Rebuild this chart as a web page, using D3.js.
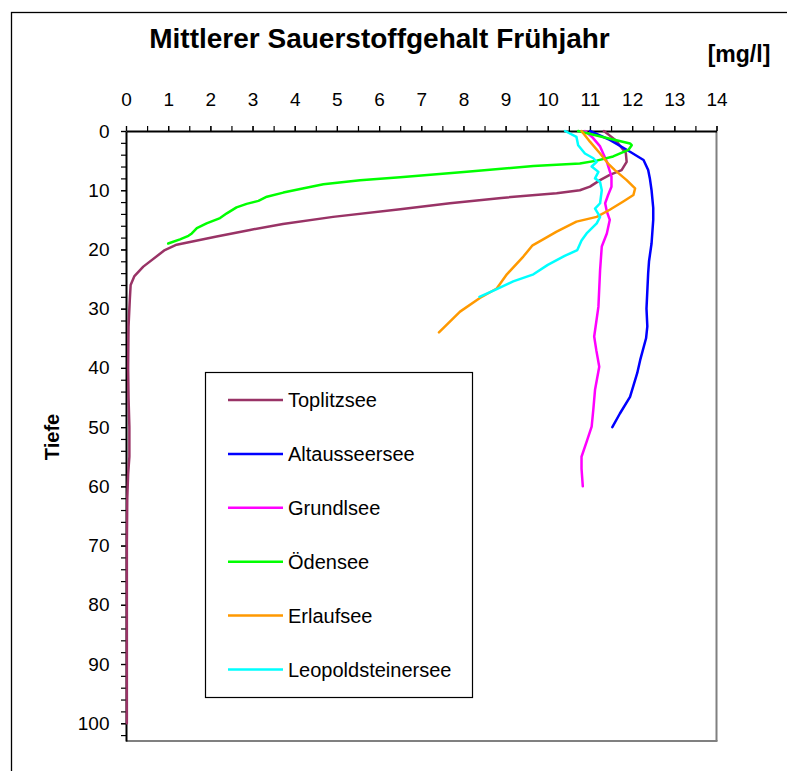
<!DOCTYPE html>
<html>
<head>
<meta charset="utf-8">
<script src="https://cdn.jsdelivr.net/npm/d3@7"></script>
<style>
  html, body { margin: 0; padding: 0; background: #fff; }
  svg { display: block; font-family: Arial, "Liberation Sans", sans-serif; }
</style>
</head>
<body>
<svg id="chart" width="787" height="771"></svg>
<script>
// Oxygen profiles: [mg/l, depth in m]
const toplitzsee = [[11.33,0],[11.6,1.5],[11.85,3.7],[11.87,5.2],[11.75,6.6],[11.47,7.4],[11.24,8.3],[11.0,9.4],[10.76,10.0],[10.21,10.5],[8.9,11.3],[7.68,12.2],[6.5,13.2],[4.91,14.5],[3.72,15.7],[2.94,16.7],[2.15,17.8],[1.2,19.2],[0.92,20.1],[0.41,22.9],[0.2,24.5],[0.11,26],[0.09,28.5],[0.08,30],[0.06,33],[0.05,40],[0.06,45],[0.08,50],[0.08,55],[0.05,58],[0.03,62],[0.02,70],[0.02,80],[0.02,90],[0.02,100]];
const altausseersee = [[11.0,0],[11.47,1.5],[11.95,3.5],[12.27,4.9],[12.38,6.6],[12.42,8],[12.46,10],[12.5,13],[12.5,15],[12.46,19],[12.4,22],[12.38,24],[12.36,27],[12.34,30],[12.36,33],[12.33,35],[12.19,38.7],[12.12,40.9],[11.95,44.9],[11.71,47.7],[11.53,50]];
const grundlsee = [[10.88,0],[11.05,1],[11.24,2.6],[11.4,5.2],[11.51,7.7],[11.51,9.4],[11.43,10.8],[11.36,12.2],[11.4,13.6],[11.47,15],[11.4,17.3],[11.28,19.5],[11.24,23.5],[11.2,29.7],[11.1,34.7],[11.15,37],[11.22,39.8],[11.12,43.7],[11.08,47],[11.04,49.9],[10.92,52.5],[10.8,55],[10.8,57],[10.83,60]];
const oedensee = [[10.72,0],[11.3,1.0],[11.95,2.1],[11.99,2.4],[11.91,3.2],[11.55,4.3],[11.16,5.0],[10.76,5.5],[9.66,5.9],[8.08,6.9],[6.5,7.8],[5.55,8.3],[4.68,9.0],[4.13,9.8],[3.73,10.4],[3.34,11.1],[3.14,11.8],[2.86,12.3],[2.62,12.9],[2.39,13.9],[2.23,14.7],[1.91,15.6],[1.68,16.4],[1.56,17.3],[1.48,17.7],[1.28,18.3],[1.0,19.0]];
const erlaufsee = [[10.8,0],[11.0,1.8],[11.24,3.8],[11.43,5.5],[11.59,6.6],[11.87,8.3],[12.07,9.7],[12.03,10.8],[11.79,11.9],[11.47,13.3],[11.16,14.5],[10.68,15.3],[10.21,17],[9.89,18.3],[9.64,19.3],[9.42,21.2],[9.03,24.2],[8.79,26.6],[8.39,28.2],[7.92,30.5],[7.42,34]];
const leopoldsteinersee = [[10.41,0],[10.68,1.0],[10.72,2.4],[10.88,3.8],[11.08,4.6],[11.16,5.2],[11.04,6.0],[11.2,6.9],[11.12,8.0],[11.24,8.6],[11.28,10],[11.24,12.2],[11.12,13.1],[11.24,14.5],[11.16,15.6],[10.92,17.3],[10.8,18.5],[10.7,20.1],[10.4,21.1],[10.0,22.6],[9.66,24.2],[9.18,25.4],[8.79,26.7],[8.38,28.0]];

const seriesNames = ["Toplitzsee", "Altausseersee", "Grundlsee", "Ödensee", "Erlaufsee", "Leopoldsteinersee"];
const seriesColors = ["#993366", "#0000FF", "#FF00FF", "#00FF00", "#FF9900", "#00FFFF"];
const seriesData = [toplitzsee, altausseersee, grundlsee, oedensee, erlaufsee, leopoldsteinersee];

const xTicks = d3.range(0, 15, 1);
const yTicks = d3.range(0, 101, 10);

const titleText = "Mittlerer Sauerstoffgehalt Frühjahr";
const unitText = "[mg/l]";
const depthLabel = "Tiefe";

const svg = d3.select("#chart");
const plotLeft = 126, plotRight = 716.5, plotTop = 131, plotBottom = 741;

const x = d3.scaleLinear().domain([0, 14]).range([plotLeft, plotRight]);
const y = d3.scaleLinear().domain([0, 103]).range([plotTop, plotBottom]);

// outer chart frame
svg.append("rect").attr("x", 11.5).attr("y", 12.5).attr("width", 800).attr("height", 800)
  .attr("fill", "none").attr("stroke", "#000").attr("stroke-width", 1.3);

// title and unit
svg.append("text").attr("x", 379.5).attr("y", 48).attr("text-anchor", "middle")
  .attr("font-size", 28).attr("font-weight", "bold").text(titleText);
svg.append("text").attr("x", 739).attr("y", 62).attr("text-anchor", "middle")
  .attr("font-size", 23).attr("font-weight", "bold").text(unitText);

// depth label
svg.append("text").attr("transform", "translate(59,437) rotate(-90)")
  .attr("text-anchor", "middle").attr("font-size", 20).attr("font-weight", "bold").text(depthLabel);

// plot frame: grey right and bottom edges
svg.append("line").attr("x1", plotRight).attr("x2", plotRight).attr("y1", plotTop).attr("y2", plotBottom)
  .attr("stroke", "#808080").attr("stroke-width", 2);
svg.append("line").attr("x1", plotLeft).attr("x2", plotRight + 1).attr("y1", plotBottom).attr("y2", plotBottom)
  .attr("stroke", "#808080").attr("stroke-width", 2);

// minor ticks
svg.append("g").attr("transform", `translate(0,${plotTop})`)
  .call(d3.axisTop(x).tickValues(d3.range(0, 14.01, 0.5)).tickSize(5).tickFormat(""))
  .call(g => g.select(".domain").remove());
svg.append("g").attr("transform", `translate(${plotLeft},0)`)
  .call(d3.axisLeft(y).tickValues(d3.range(0, 103, 2)).tickSize(5).tickFormat(""))
  .call(g => g.select(".domain").remove());

// major axes with labels
const xAxis = svg.append("g").attr("transform", `translate(0,${plotTop})`)
  .call(d3.axisTop(x).tickValues(xTicks).tickSize(5).tickPadding(20).tickSizeOuter(0));
xAxis.selectAll("text").attr("font-size", 19).attr("font-family", "Arial, 'Liberation Sans', sans-serif").attr("fill", "#000");

const yAxis = svg.append("g").attr("transform", `translate(${plotLeft},0)`)
  .call(d3.axisLeft(y).tickValues(yTicks).tickSize(5).tickPadding(11.5).tickSizeOuter(0));
yAxis.selectAll("text").attr("font-size", 19).attr("font-family", "Arial, 'Liberation Sans', sans-serif").attr("fill", "#000");

svg.selectAll(".domain").attr("stroke", "#000").attr("stroke-width", 2);
svg.selectAll(".tick line").attr("stroke", "#000").attr("stroke-width", 1.2);

// profile lines
const line = d3.line().x(d => x(d[0])).y(d => y(d[1]));
seriesData.forEach((data, i) => {
  svg.append("path").datum(data).attr("d", line)
    .attr("fill", "none").attr("stroke", seriesColors[i]).attr("stroke-width", 2.5)
    .attr("stroke-linejoin", "round").attr("stroke-linecap", "round");
});

// legend
const legend = svg.append("g");
legend.append("rect").attr("x", 205.5).attr("y", 372.5).attr("width", 267).attr("height", 325)
  .attr("fill", "#fff").attr("stroke", "#000").attr("stroke-width", 1.2);
seriesNames.forEach((name, i) => {
  const cy = 400 + i * 53.9;
  legend.append("line").attr("x1", 228).attr("x2", 283).attr("y1", cy).attr("y2", cy)
    .attr("stroke", seriesColors[i]).attr("stroke-width", 2.5);
  legend.append("text").attr("x", 288).attr("y", cy + 7).attr("font-size", 20).text(name);
});
</script>
</body>
</html>
